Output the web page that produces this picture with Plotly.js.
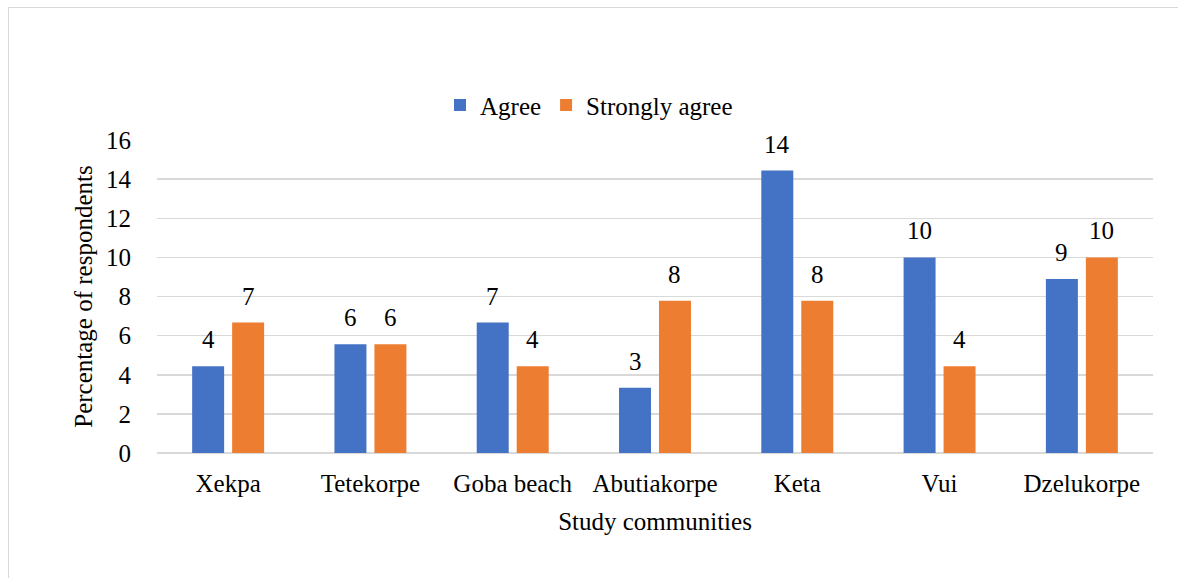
<!DOCTYPE html>
<html>
<head>
<meta charset="utf-8">
<script src="https://cdn.plot.ly/plotly-3.0.1.min.js"></script>
<style>
  html, body { margin: 0; padding: 0; background: #fff; }
  #wrap { position: relative; width: 1178px; height: 578px; }
  #chart { width: 1178px; height: 578px; }
  #frame {
    position: absolute; left: 8px; top: 7px; right: -2px; bottom: -2px;
    border-left: 1.5px solid #d9d9d9; border-top: 1.5px solid #d9d9d9;
    pointer-events: none;
  }
</style>
</head>
<body>
<div id="wrap">
  <div id="chart"></div>
  <div id="frame"></div>
</div>
<script>
// Study communities and the share of respondents (%) per response
const communities = ["Xekpa", "Tetekorpe", "Goba beach", "Abutiakorpe", "Keta", "Vui", "Dzelukorpe"];
const agree = [4.44, 5.56, 6.67, 3.33, 14.44, 10.0, 8.89];
const stronglyAgree = [6.67, 5.56, 4.44, 7.78, 7.78, 4.44, 10.0];
const seriesNames = ["Agree", "Strongly agree"];
const yTicks = [0, 2, 4, 6, 8, 10, 12, 14, 16];

const BLUE = "#4472C4";
const ORANGE = "#ED7D31";
const FONT = "Liberation Serif";
const FS = 25;
const BARGAP = 0.438;
const GROUPGAP = 0.2;
const TXT = { family: FONT, size: FS, color: "#000" };

const traces = [
  { type: "bar", name: seriesNames[0], x: communities, y: agree,
    marker: { color: BLUE }, hoverinfo: "skip" },
  { type: "bar", name: seriesNames[1], x: communities, y: stronglyAgree,
    marker: { color: ORANGE }, hoverinfo: "skip" }
];

// Value labels above each bar, rounded to whole percentages
const slot = (1 - BARGAP) / 2;
const annotations = [];
[agree, stronglyAgree].forEach((vals, s) => {
  const off = (s === 0 ? -1 : 1) * slot / 2;
  vals.forEach((v, i) => {
    annotations.push({
      x: i + off, y: v, xref: "x", yref: "y",
      text: String(Math.round(v)), showarrow: false,
      yanchor: "bottom", yshift: 11,
      font: TXT
    });
  });
});

const layout = {
  width: 1178, height: 578,
  margin: { l: 157, r: 25, t: 140, b: 125 },
  paper_bgcolor: "#fff", plot_bgcolor: "#fff",
  font: TXT,
  barmode: "group", bargap: BARGAP, bargroupgap: GROUPGAP,
  showlegend: true,
  legend: {
    orientation: "h", xref: "container", yref: "container",
    x: 0.5, xanchor: "center", y: 0.818, yanchor: "middle",
    font: TXT, itemwidth: 30
  },
  xaxis: {
    type: "category",
    showgrid: false, showline: false, zeroline: false,
    ticks: "outside", ticklen: 8, tickcolor: "rgba(0,0,0,0)",
    tickfont: TXT,
    title: { text: "Study communities", standoff: 16, font: TXT }
  },
  yaxis: {
    range: [0, 16], tickvals: yTicks, ticktext: yTicks.map(String),
    showgrid: true, gridcolor: "#d9d9d9", gridwidth: 1.5,
    zeroline: true, zerolinecolor: "#d9d9d9", zerolinewidth: 1.5,
    showline: false,
    ticks: "outside", ticklen: 20, tickcolor: "rgba(0,0,0,0)",
    tickfont: TXT,
    title: { text: "Percentage of respondents", standoff: 6, font: TXT }
  },
  annotations: annotations
};

Plotly.newPlot("chart", traces, layout, { displayModeBar: false, staticPlot: true });
</script>
</body>
</html>
